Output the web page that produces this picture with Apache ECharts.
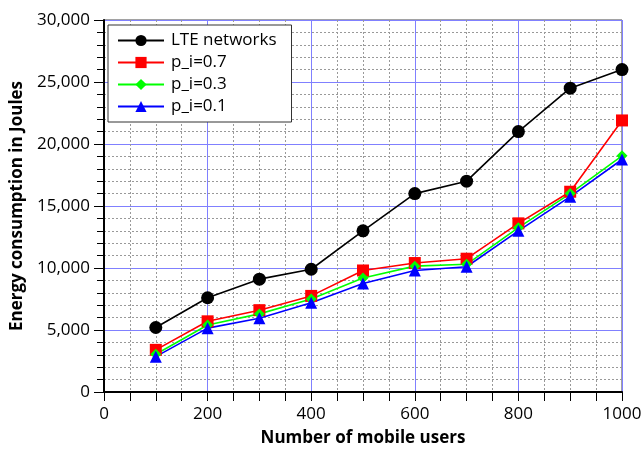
<!DOCTYPE html>
<html>
<head>
<meta charset="utf-8">
<script src="https://cdn.jsdelivr.net/npm/echarts@6/dist/echarts.min.js"></script>
<style>html,body{margin:0;padding:0;background:#fff}#c{width:643px;height:449px}</style>
</head>
<body>
<div id="c"></div>
<script>
var users = [100, 200, 300, 400, 500, 600, 700, 800, 900, 1000];
var lte = [5200, 7600, 9100, 9900, 13000, 16000, 17000, 21000, 24500, 26000];
var p07 = [3400, 5700, 6600, 7750, 9800, 10400, 10750, 13600, 16150, 21900];
var p03 = [3050, 5400, 6300, 7500, 9200, 10150, 10300, 13250, 16000, 19050];
var p01 = [2850, 5150, 5950, 7200, 8750, 9800, 10100, 13000, 15750, 18750];
var seriesNames = ['LTE networks', 'p_i=0.7', 'p_i=0.3', 'p_i=0.1'];

function pairs(v) { return users.map(function (u, i) { return [u, v[i]]; }); }

var font = 'Open Sans';
var chart = echarts.init(document.getElementById('c'));
function mk(name, data, color, symbol, size) {
  return {
    name: name, type: 'line', data: pairs(data),
    symbol: symbol, symbolSize: size, showSymbol: true,
    lineStyle: { color: color, width: 1.6 },
    itemStyle: { color: color },
    emphasis: { disabled: true },
    animation: false
  };
}
chart.setOption({
  animation: false,
  backgroundColor: '#fff',
  grid: { left: 104, right: 21, top: 20, bottom: 57, outerBoundsMode: 'none', containLabel: false,
    show: true, borderColor: '#444', borderWidth: 1, backgroundColor: 'transparent' },
  legend: {
    left: 108, top: 25, orient: 'vertical',
    padding: [7, 15, 7, 9],
    itemGap: 5, itemWidth: 46, itemHeight: 14,
    borderColor: '#333', borderWidth: 1, borderRadius: 0,
    backgroundColor: '#fff',
    textStyle: { fontFamily: font, fontSize: 17, color: '#000', padding: [0, 0, 0, 2] },
    data: seriesNames
  },
  xAxis: {
    type: 'value', min: 0, max: 1000, interval: 200,
    name: 'Number of mobile users', nameLocation: 'middle', nameGap: 38,
    nameTextStyle: { fontFamily: font, fontSize: 17, fontWeight: 'bold', color: '#000' },
    axisLine: { show: true, onZero: false, lineStyle: { color: '#000', width: 2 } },
    axisTick: { show: true, length: 9, lineStyle: { color: '#000', width: 1 } },
    minorTick: { show: true, splitNumber: 4, length: 9, lineStyle: { color: '#000', width: 1 } },
    axisLabel: { fontFamily: font, fontSize: 17, color: '#000', margin: 14, showMaxLabel: true,
      formatter: function (v) { return String(v); } },
    splitLine: { show: true, lineStyle: { color: '#8080ff', width: 1 } },
    minorSplitLine: { show: true, lineStyle: { color: '#999', width: 1, type: [2, 2] } }
  },
  yAxis: {
    type: 'value', min: 0, max: 30000, interval: 5000,
    name: 'Energy consumption in Joules', nameLocation: 'middle', nameGap: 71,
    nameTextStyle: { fontFamily: font, fontSize: 17, fontWeight: 'bold', color: '#000' },
    axisLine: { show: true, onZero: false, lineStyle: { color: '#000', width: 2 } },
    axisTick: { show: true, length: 10, lineStyle: { color: '#000', width: 1 } },
    minorTick: { show: true, splitNumber: 5, length: 7, lineStyle: { color: '#000', width: 1 } },
    axisLabel: {
      fontFamily: font, fontSize: 17, color: '#000', margin: 14,
      formatter: function (v) { return v.toLocaleString('en-US'); }
    },
    splitLine: { show: true, lineStyle: { color: '#8080ff', width: 1 } },
    minorSplitLine: { show: true, lineStyle: { color: '#999', width: 1, type: [2, 2] } }
  },
  series: [
    mk(seriesNames[0], lte, '#000000', 'circle', 13),
    mk(seriesNames[1], p07, '#ff0000', 'rect', 12),
    mk(seriesNames[2], p03, '#00ff00', 'diamond', 11),
    mk(seriesNames[3], p01, '#0000ff', 'triangle', 12)
  ]
});
</script>
</body>
</html>
